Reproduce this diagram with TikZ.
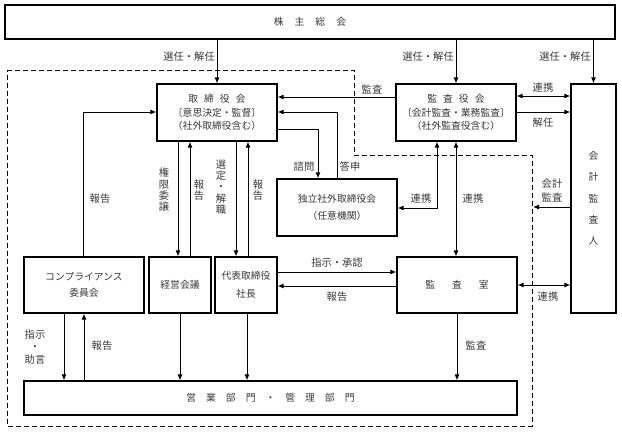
\documentclass[tikz,border=0pt]{standalone}
\usepackage{fontspec}
\newfontfamily\jp{Noto Sans CJK JP}
\usetikzlibrary{arrows.meta}
\tikzset{
  box/.style={draw, line width=1.1pt, fill=white, inner sep=0pt, align=center,
    font=\jp\fontsize{9.8}{13.5}\selectfont, text=black!78},
  lbl/.style={font=\jp\fontsize{10.3}{11}\selectfont, text=black!78, inner sep=0pt, align=center},
  vlbl/.style={lbl, font=\jp\fontsize{10.3}{11.3}\selectfont},
  arr/.style={line width=1pt, -{Latex[length=6pt,width=5pt]}},
  darr/.style={line width=1pt, {Latex[length=6pt,width=5pt]}-{Latex[length=6pt,width=5pt]}},
  dashbox/.style={line width=1pt, dash pattern=on 5pt off 3pt}
}
\begin{document}
\begin{tikzpicture}[x=1pt,y=-1pt]
\useasboundingbox (0,0) rectangle (622,434);
\draw[dashbox] (7,70) -- (354,70) -- (354,155) -- (532,155) -- (532,426) -- (7,426) -- cycle;

% boxes
\node[box, minimum width=610pt, minimum height=34pt] (kabu) at (310,22) {株\hspace{11pt}主\hspace{11pt}総\hspace{11pt}会};
\node[box, minimum width=120pt, minimum height=57pt] (tori) at (217,112.5)
  {取\hspace{6pt}締\hspace{6pt}役\hspace{6pt}会\\〔意思決定・監督〕\\（社外取締役含む）};
\node[box, minimum width=120pt, minimum height=57pt] (kansa) at (456,112.5)
  {監\hspace{6pt}査\hspace{6pt}役\hspace{6pt}会\\〔会計監査・業務監査〕\\（社外監査役含む）};
\node[box, minimum width=45pt, minimum height=229pt, font=\jp\fontsize{9.8}{21.3}\selectfont] (kaikei) at (593.5,198.5)
  {会\\計\\監\\査\\人};
\node[box, minimum width=120pt, minimum height=57pt, font=\jp\fontsize{9.8}{17}\selectfont] (doku) at (337,207.5)
  {独立社外取締役会\\（任意機関）};
\node[box, minimum width=120pt, minimum height=56pt, font=\jp\fontsize{9.8}{16}\selectfont] (comp) at (84,285)
  {コンプライアンス\\委員会};
\node[box, minimum width=62pt, minimum height=56pt] (keiei) at (180,285) {経営会議};
\node[box, minimum width=62pt, minimum height=56pt, font=\jp\fontsize{9.8}{18}\selectfont] (daihyo) at (246,285)
  {代表取締役\\社長};
\node[box, minimum width=120pt, minimum height=56pt] (shitsu) at (457,285)
  {監\hspace{17pt}査\hspace{17pt}室};
\node[box, minimum width=493pt, minimum height=34pt] (eigyo) at (270.5,398)
  {営\hspace{10pt}業\hspace{10pt}部\hspace{10pt}門\hspace{10pt}・\hspace{10pt}管\hspace{10pt}理\hspace{10pt}部\hspace{10pt}門};

% connectors from shareholders
\draw[arr] (kabu.south -| tori.north) -- (tori.north);
\draw[arr] (kabu.south -| kansa.north) -- (kansa.north);
\draw[arr] (kabu.south -| kaikei.north) -- (kaikei.north);
\node[lbl, anchor=east] at (215,57) {選任・解任};
\node[lbl, anchor=east] at (454,57) {選任・解任};
\node[lbl, anchor=east] at (591,57) {選任・解任};

% audit board connections
\draw[arr] (kansa.west |- 0,97) -- (tori.east |- 0,97);
\node[lbl] at (372,89) {監査};
\draw[darr] (kansa.east |- 0,96) -- (kaikei.west |- 0,96);
\node[lbl] at (543,88) {連携};
\draw[arr] (kansa.east |- 0,112) -- (kaikei.west |- 0,112);
\node[lbl] at (543,123) {解任};

% compliance report to board
\draw[arr] (comp.north -| 83,0) |- (tori.west |- 0,112);
\node[lbl] at (100,199) {報告};

% independent directors
\draw[arr] (tori.east |- 0,129) -| (doku.north -| 318,0);
\draw[arr] (doku.north -| 337,0) |- (tori.east |- 0,112);
\node[lbl] at (304,167) {諮問};
\node[lbl] at (350,167) {答申};

% board to management
\draw[arr] (tori.south -| 178,0) -- (keiei.north -| 178,0);
\draw[arr] (keiei.north -| 190,0) -- (tori.south -| 190,0);
\draw[arr] (tori.south -| 236,0) -- (daihyo.north -| 236,0);
\draw[arr] (daihyo.north -| 248,0) -- (tori.south -| 248,0);
\node[vlbl] at (164,190) {権\\限\\委\\譲};
\node[vlbl] at (199,190) {報\\告};
\node[vlbl] at (221,187) {選\\定\\・\\解\\職};
\node[vlbl] at (258,190) {報\\告};

% audit board links
\draw[darr] (kansa.south -| 437,0) |- (doku.east |- 0,208);
\node[lbl] at (421,199) {連携};
\draw[darr] (kansa.south -| 456,0) -- (shitsu.north -| 456,0);
\node[lbl] at (473,199) {連携};

% president and audit office
\draw[arr] (daihyo.east |- 0,272) -- (shitsu.west |- 0,272);
\node[lbl] at (337,263) {指示・承認};
\draw[arr] (shitsu.west |- 0,286) -- (daihyo.east |- 0,286);
\node[lbl] at (337,297) {報告};
\draw[darr] (shitsu.east) -- (kaikei.west |- shitsu.east);
\node[lbl] at (548,297) {連携};

% accounting auditor
\coordinate (dl) at (533,207);
\draw[arr] (kaikei.west |- dl) -- (dl);
\node[lbl, font=\jp\fontsize{10.3}{14}\selectfont] at (552,190) {会計\\監査};

% to operating departments
\draw[arr] (comp.south -| 64,0) -- (eigyo.north -| 64,0);
\draw[arr] (eigyo.north -| 84,0) -- (comp.south -| 84,0);
\node[lbl, font=\jp\fontsize{10.3}{12.5}\selectfont] at (35,347) {指示\\・\\助言};
\node[lbl] at (102,346) {報告};
\draw[arr] (keiei.south -| 180,0) -- (eigyo.north -| 180,0);
\draw[arr] (daihyo.south -| 247,0) -- (eigyo.north -| 247,0);
\draw[arr] (shitsu.south) -- (eigyo.north -| shitsu.south);
\node[lbl] at (476,345) {監査};
\end{tikzpicture}
\end{document}
